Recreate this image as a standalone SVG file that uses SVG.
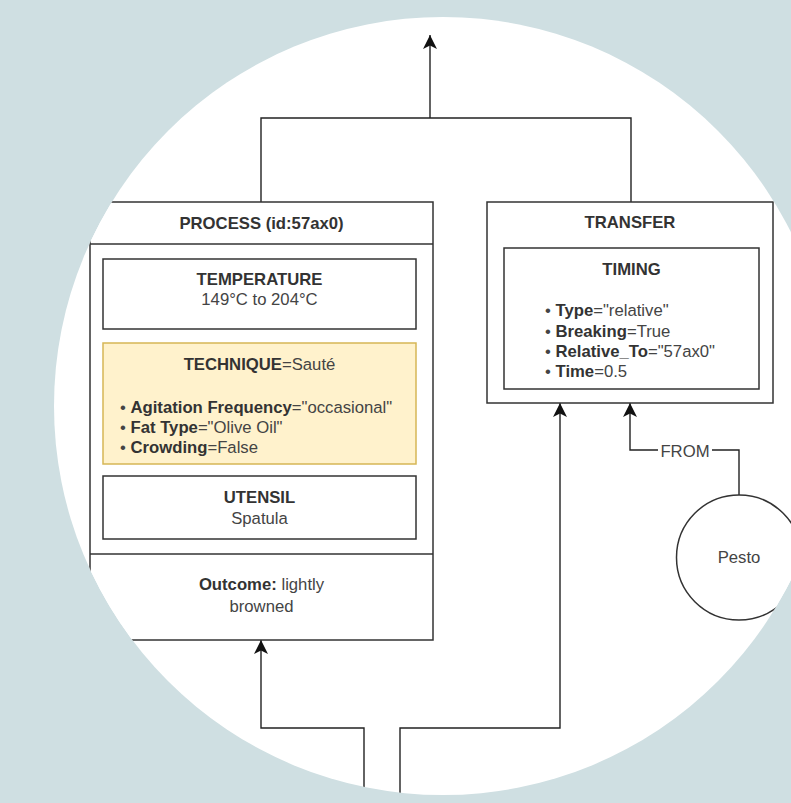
<svg xmlns="http://www.w3.org/2000/svg" width="791" height="803" viewBox="0 0 791 803">
  <style>
    .box { fill: #ffffff; stroke: #333333; stroke-width: 1.5; }
    .tech { fill: #fff2cc; stroke: #d6b656; stroke-width: 1.5; }
    .div { stroke: #333333; stroke-width: 1.5; fill: none; }
    .conn { fill: none; stroke: #222222; stroke-width: 1.4; }
    text { font-family: "Liberation Sans", Arial, Helvetica, sans-serif; font-size: 16.7px; fill: #333333; }
    .c { text-anchor: middle; }
    .b { font-weight: bold; }
    .r { fill: #444444; }
  </style>
  <defs>
    <clipPath id="disc">
      <circle cx="443" cy="406" r="389"/>
    </clipPath>
    <marker id="arrow" markerUnits="userSpaceOnUse" markerWidth="15" markerHeight="15" refX="14" refY="7" orient="auto" viewBox="0 0 15 14">
      <path d="M0,0 L14,7 L0,14 L3.5,7 Z" fill="#111111"/>
    </marker>
  </defs>

  <rect x="0" y="0" width="791" height="803" fill="#cfdfe2"/>
  <circle cx="443" cy="406" r="389" fill="#ffffff"/>

  <g clip-path="url(#disc)">
    <g id="connectors">
      <path class="conn" d="M261,202 V118 H631 V202"/>
      <path class="conn" d="M430,118 V35" marker-end="url(#arrow)"/>
      <path class="conn" d="M364,800 V728 H261 V640" marker-end="url(#arrow)"/>
      <path class="conn" d="M400,800 V728 H560 V403" marker-end="url(#arrow)"/>
      <path class="conn" d="M739,495 V450 H630 V403" marker-end="url(#arrow)"/>
      <rect x="658" y="442" width="54" height="17" fill="#ffffff"/>
      <text class="c r" x="685" y="457">FROM</text>
    </g>

    <g id="process">
      <rect class="box" x="90" y="202" width="343" height="438"/>
      <line class="div" x1="90" y1="244" x2="433" y2="244"/>
      <line class="div" x1="90" y1="554" x2="433" y2="554"/>
      <text class="c b" x="261.5" y="229">PROCESS (id:57ax0)</text>
      <text class="c" x="261.5" y="590"><tspan class="b">Outcome:</tspan><tspan class="r"> lightly</tspan></text>
      <text class="c r" x="261.5" y="612">browned</text>
    </g>

    <g id="temperature">
      <rect class="box" x="103" y="259" width="313" height="70"/>
      <text class="c b" x="259.5" y="285">TEMPERATURE</text>
      <text class="c r" x="259.5" y="305">149°C to 204°C</text>
    </g>

    <g id="technique">
      <rect class="tech" x="103" y="343" width="313" height="121"/>
      <text class="c" x="259.5" y="370"><tspan class="b">TECHNIQUE</tspan><tspan class="r">=Sauté</tspan></text>
      <text x="120" y="413"><tspan class="r">• </tspan><tspan class="b">Agitation Frequency</tspan><tspan class="r">="occasional"</tspan></text>
      <text x="120" y="433"><tspan class="r">• </tspan><tspan class="b">Fat Type</tspan><tspan class="r">="Olive Oil"</tspan></text>
      <text x="120" y="453"><tspan class="r">• </tspan><tspan class="b">Crowding</tspan><tspan class="r">=False</tspan></text>
    </g>

    <g id="utensil">
      <rect class="box" x="103" y="476" width="313" height="63"/>
      <text class="c b" x="259.5" y="503">UTENSIL</text>
      <text class="c r" x="259.5" y="524">Spatula</text>
    </g>

    <g id="transfer">
      <rect class="box" x="487" y="202" width="286" height="201"/>
      <text class="c b" x="630" y="228">TRANSFER</text>
    </g>

    <g id="timing">
      <rect class="box" x="504" y="248" width="255" height="141"/>
      <text class="c b" x="631.5" y="275">TIMING</text>
      <text x="545" y="316"><tspan class="r">• </tspan><tspan class="b">Type</tspan><tspan class="r">="relative"</tspan></text>
      <text x="545" y="337"><tspan class="r">• </tspan><tspan class="b">Breaking</tspan><tspan class="r">=True</tspan></text>
      <text x="545" y="357"><tspan class="r">• </tspan><tspan class="b">Relative_To</tspan><tspan class="r">="57ax0"</tspan></text>
      <text x="545" y="377"><tspan class="r">• </tspan><tspan class="b">Time</tspan><tspan class="r">=0.5</tspan></text>
    </g>

    <g id="pesto">
      <circle class="box" cx="739" cy="557.5" r="62.5"/>
      <text class="c r" x="739" y="563">Pesto</text>
    </g>
  </g>
</svg>
